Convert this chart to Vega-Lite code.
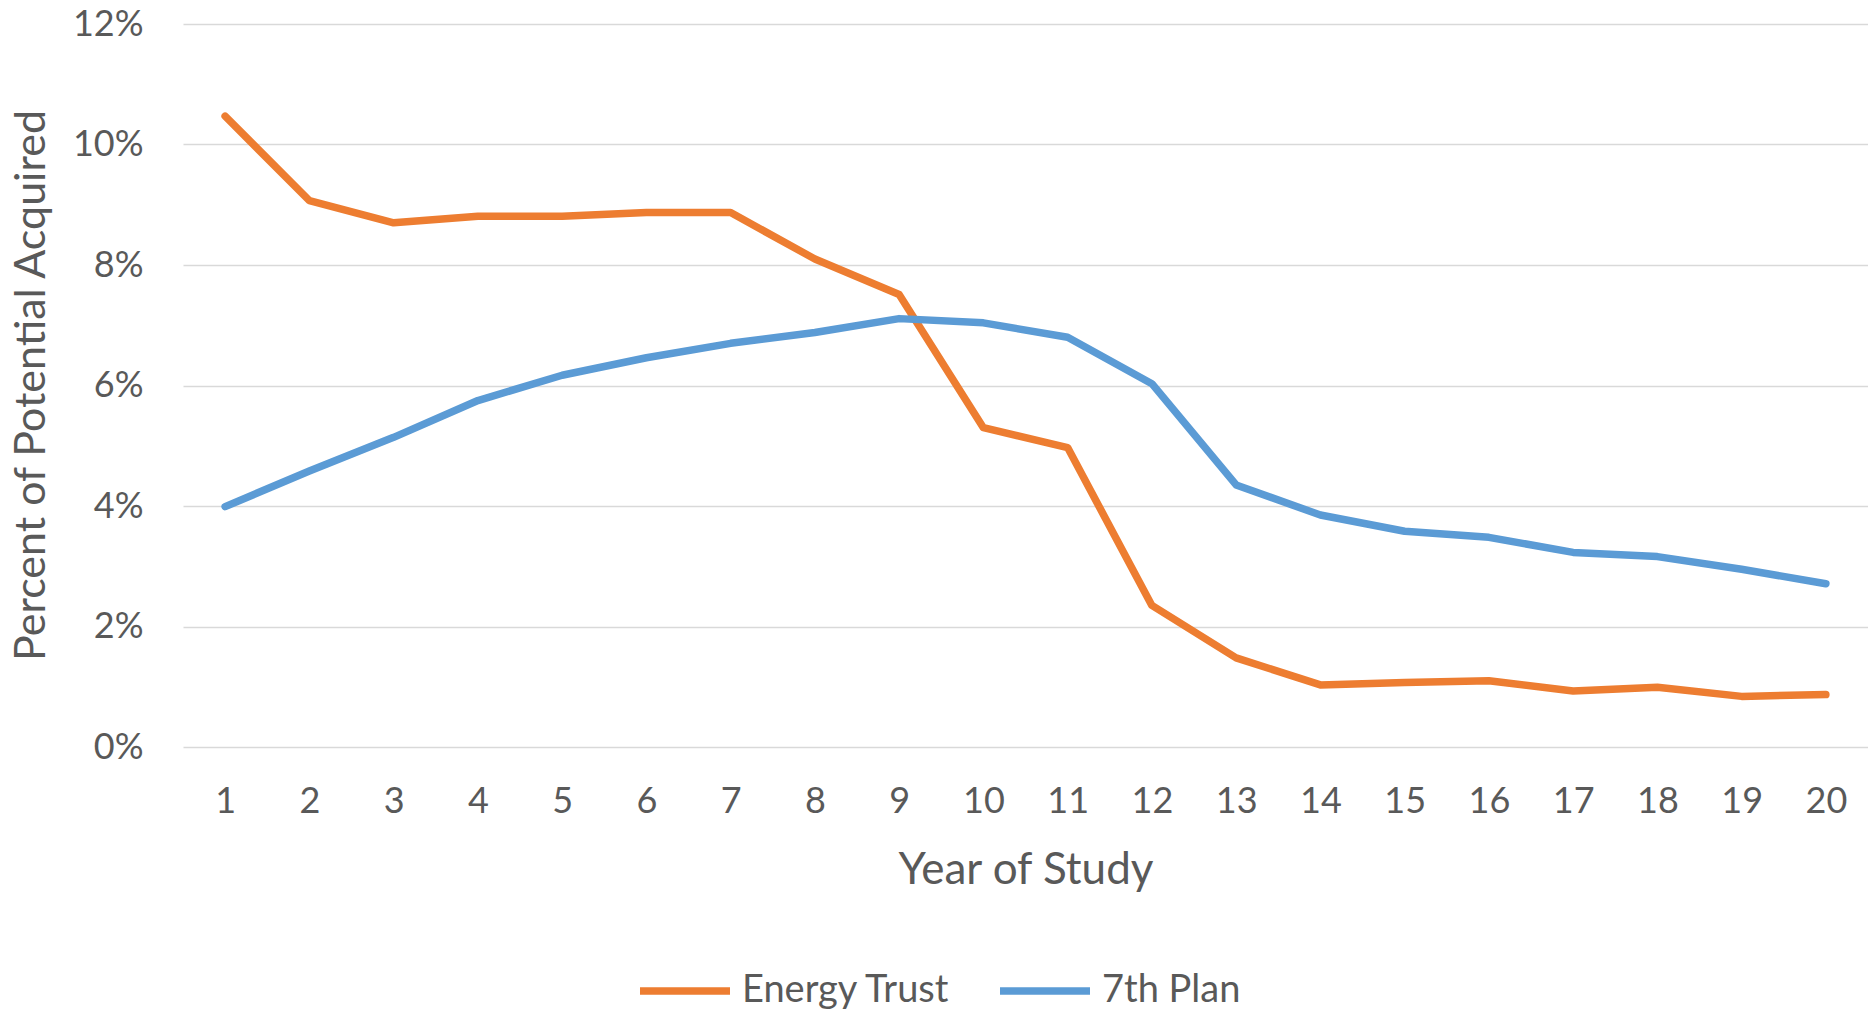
{
  "$schema": "https://vega.github.io/schema/vega-lite/v6.json",
  "autosize": {"type": "none"},
  "padding": {"left": 183, "top": 24, "right": 0, "bottom": 265},
  "width": 1685,
  "height": 723,
  "background": "white",
  "config": {
    "font": "Lato",
    "view": {"stroke": null}
  },
  "data": {
    "values": [
      {"year": 1, "series": "Energy Trust", "value": 0.1047},
      {"year": 2, "series": "Energy Trust", "value": 0.0907},
      {"year": 3, "series": "Energy Trust", "value": 0.0870},
      {"year": 4, "series": "Energy Trust", "value": 0.0881},
      {"year": 5, "series": "Energy Trust", "value": 0.0881},
      {"year": 6, "series": "Energy Trust", "value": 0.0887},
      {"year": 7, "series": "Energy Trust", "value": 0.0887},
      {"year": 8, "series": "Energy Trust", "value": 0.0810},
      {"year": 9, "series": "Energy Trust", "value": 0.0751},
      {"year": 10, "series": "Energy Trust", "value": 0.0530},
      {"year": 11, "series": "Energy Trust", "value": 0.0497},
      {"year": 12, "series": "Energy Trust", "value": 0.0235},
      {"year": 13, "series": "Energy Trust", "value": 0.0148},
      {"year": 14, "series": "Energy Trust", "value": 0.0103},
      {"year": 15, "series": "Energy Trust", "value": 0.0107},
      {"year": 16, "series": "Energy Trust", "value": 0.0110},
      {"year": 17, "series": "Energy Trust", "value": 0.0093},
      {"year": 18, "series": "Energy Trust", "value": 0.0099},
      {"year": 19, "series": "Energy Trust", "value": 0.0084},
      {"year": 20, "series": "Energy Trust", "value": 0.0087},
      {"year": 1, "series": "7th Plan", "value": 0.0399},
      {"year": 2, "series": "7th Plan", "value": 0.0458},
      {"year": 3, "series": "7th Plan", "value": 0.0514},
      {"year": 4, "series": "7th Plan", "value": 0.0575},
      {"year": 5, "series": "7th Plan", "value": 0.0617},
      {"year": 6, "series": "7th Plan", "value": 0.0646},
      {"year": 7, "series": "7th Plan", "value": 0.0670},
      {"year": 8, "series": "7th Plan", "value": 0.0688},
      {"year": 9, "series": "7th Plan", "value": 0.0711},
      {"year": 10, "series": "7th Plan", "value": 0.0704},
      {"year": 11, "series": "7th Plan", "value": 0.0680},
      {"year": 12, "series": "7th Plan", "value": 0.0603},
      {"year": 13, "series": "7th Plan", "value": 0.0435},
      {"year": 14, "series": "7th Plan", "value": 0.0385},
      {"year": 15, "series": "7th Plan", "value": 0.0358},
      {"year": 16, "series": "7th Plan", "value": 0.0348},
      {"year": 17, "series": "7th Plan", "value": 0.0323},
      {"year": 18, "series": "7th Plan", "value": 0.0316},
      {"year": 19, "series": "7th Plan", "value": 0.0295},
      {"year": 20, "series": "7th Plan", "value": 0.0271}
    ]
  },
  "mark": {"type": "line", "strokeWidth": 7.5, "strokeCap": "round", "strokeJoin": "round"},
  "encoding": {
    "x": {
      "field": "year",
      "type": "quantitative",
      "scale": {"domain": [0.5, 20.5], "nice": false, "zero": false},
      "axis": {
        "values": [1,2,3,4,5,6,7,8,9,10,11,12,13,14,15,16,17,18,19,20],
        "format": "d",
        "grid": false,
        "domain": false,
        "ticks": false,
        "labelPadding": 37,
        "labelFontSize": 36,
        "labelColor": "#595959",
        "labelFlush": false,
        "labelOverlap": false,
        "title": "Year of Study",
        "titleFontSize": 44,
        "titleFontWeight": "normal",
        "titleColor": "#595959",
        "titleY": 123,
        "titleBaseline": "middle"
      }
    },
    "y": {
      "field": "value",
      "type": "quantitative",
      "scale": {"domain": [0, 0.12], "nice": false},
      "axis": {
        "values": [0, 0.02, 0.04, 0.06, 0.08, 0.10, 0.12],
        "format": ".0%",
        "grid": true,
        "gridColor": "#D9D9D9",
        "gridWidth": 1.5,
        "domain": false,
        "ticks": false,
        "labelPadding": 40,
        "labelFontSize": 36,
        "labelColor": "#595959",
        "labelFlush": false,
        "title": "Percent of Potential Acquired",
        "titleFontSize": 43,
        "titleFontWeight": "normal",
        "titleColor": "#595959",
        "titleX": -152,
        "titleY": 361,
        "titleBaseline": "middle"
      }
    },
    "color": {
      "field": "series",
      "type": "nominal",
      "scale": {"domain": ["Energy Trust", "7th Plan"], "range": ["#ED7D31", "#5B9BD5"]},
      "legend": {
        "title": null,
        "orient": "none",
        "direction": "horizontal",
        "legendX": 453,
        "legendY": 918,
        "symbolType": "stroke",
        "symbolSize": 8100,
        "symbolStrokeWidth": 7.5,
        "labelFontSize": 38,
        "labelColor": "#595959",
        "labelOffset": 8,
        "columnPadding": 34,
        "labelLimit": 400
      }
    }
  }
}
